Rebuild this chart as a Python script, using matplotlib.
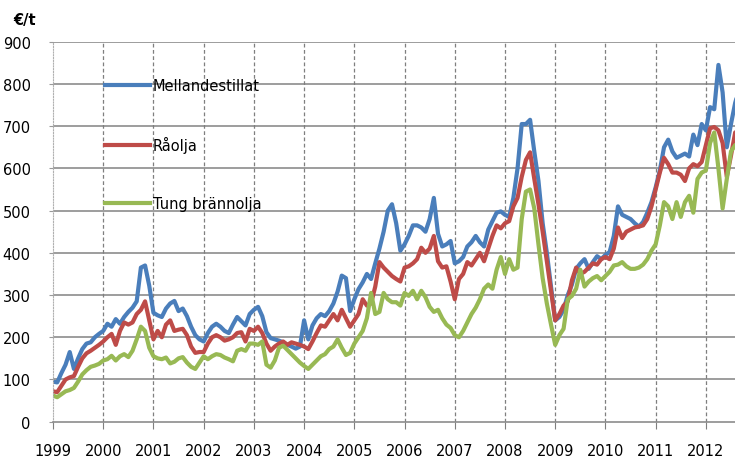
import numpy as np
import matplotlib
matplotlib.use("Agg")
import matplotlib.pyplot as plt

# monthly values, Jan 1999 -> Sep 2012 (EUR per tonne)
mellandestillat = [
    95, 93, 115, 135, 165, 125, 150, 172, 185, 188, 200, 208,   # 1999
    215, 232, 225, 243, 232, 248, 260, 270, 285, 365, 370, 322,  # 2000
    258, 252, 248, 268, 280, 286, 262, 268, 250, 225, 205, 195,  # 2001
    190, 210, 225, 232, 225, 215, 210, 230, 248, 238, 228, 255,  # 2002
    265, 272, 250, 212, 198, 195, 192, 188, 182, 178, 173, 178,  # 2003
    240, 195, 228, 245, 255, 250, 262, 280, 308, 346, 340, 262,  # 2004
    290, 314, 330, 350, 338, 375, 410, 450, 500, 515, 470, 405,  # 2005
    420, 440, 465, 465, 460, 450, 480, 530, 445, 415, 420, 428,  # 2006
    375, 380, 390, 415, 425, 440, 425, 415, 455, 475, 495, 498,  # 2007
    490, 485, 530, 600, 705, 705, 715, 640, 570, 470, 400, 320,  # 2008
    240, 248, 265, 300, 325, 362, 375, 385, 362, 378, 392, 385,  # 2009
    395, 402, 440, 510, 490, 485, 480, 470, 462, 473, 495, 520,  # 2010
    555, 595, 650, 668, 640, 625, 630, 635, 628, 680, 655, 705,  # 2011
    690, 745, 740, 845, 780, 650, 705, 755, 790,                 # 2012
]
raolja = [
    72, 70, 85, 100, 105, 108, 130, 150, 162, 168, 175, 182,
    190, 200, 208, 182, 215, 235, 230, 235, 255, 265, 285, 240,
    195, 215, 200, 230, 240, 215, 218, 220, 205, 178, 163, 165,
    165, 185, 200, 205, 200, 192, 195, 200, 210, 212, 190, 220,
    215, 225, 210, 185, 168, 178, 185, 190, 182, 188, 185, 182,
    178, 172, 190, 210, 228, 225, 240, 255, 240, 265, 245, 225,
    240, 255, 290, 275, 280, 320, 378, 365, 355, 345, 338, 332,
    365, 368, 375, 385, 412, 400, 410, 440, 380, 365, 368, 332,
    290, 338, 350, 378, 370, 385, 400, 380, 410, 440, 465, 458,
    470, 475, 510, 530, 580, 620, 638, 575, 515, 450, 380, 310,
    240, 255, 275, 285, 335, 365, 350, 355, 365, 375, 372, 385,
    390, 385, 410, 460, 435, 450, 455, 460, 462, 465, 480, 510,
    550, 590, 625, 610, 590, 590, 585, 570, 600, 610, 605, 615,
    655, 695, 698, 690, 660, 580, 630, 685, 690,
]
tung_brannolja = [
    62, 58, 65, 72, 75, 80, 95, 112, 122, 130, 133, 137,
    145, 148, 156, 145, 155, 160, 153, 168, 195, 225, 215, 175,
    155, 150, 148, 152, 138, 142, 150, 153, 140, 130, 125, 140,
    155, 148, 155, 160, 158, 152, 148, 143, 168, 172, 168, 185,
    185, 182, 190, 135, 128, 145, 175, 180, 170, 160, 150, 140,
    132, 125, 135, 145, 155, 160, 172, 178, 195, 175, 158, 163,
    185, 200, 215, 245, 305, 255, 260, 305, 290, 283, 283, 275,
    305, 298, 310, 290, 310, 295, 272, 260, 265, 245, 230, 222,
    205, 200, 215, 235, 255, 270, 290, 315, 325, 315, 360, 390,
    350, 385, 360, 365, 480, 545, 550, 505, 420, 340, 280, 230,
    182, 205, 220, 290, 298, 315, 360, 320, 332, 340, 345, 335,
    345, 355, 370, 372, 378, 368, 362, 362, 365, 372, 385, 405,
    420, 465, 520, 510, 480, 520, 485, 520, 535, 495, 575, 590,
    595, 660, 685, 600, 505, 575, 640, 655, 660,
]
years = list(range(1999, 2013))
series_names = ["Mellandestillat", "Råolja", "Tung brännolja"]

t = 1999 + np.arange(len(mellandestillat)) / 12.0

fig = plt.figure(figsize=(7.35, 4.6), dpi=100)
ax = fig.add_axes([53 / 735, 37.3 / 460, 682 / 735, 380 / 460])

ax.plot(t, mellandestillat, color="#4a7ebb", lw=3, label=series_names[0])
ax.plot(t, raolja, color="#be4b48", lw=3, label=series_names[1])
ax.plot(t, tung_brannolja, color="#98b954", lw=3, label=series_names[2])

ax.set_xlim(1999, 2012.58)
ax.set_ylim(0, 900)
ax.set_yticks(range(0, 901, 100))
ax.set_xticks(years)
ax.set_xticklabels([str(y) for y in years])

# grid: solid horizontal, dashed vertical
for v in range(100, 901, 100):
    ax.axhline(v, color="#8c8c8c", lw=1.2, zorder=0)
for y in years[1:]:
    ax.axvline(y, color="#7f7f7f", lw=0.9, ls=(0, (3, 2)), zorder=0)

for s in ["top", "right"]:
    ax.spines[s].set_visible(False)
ax.spines["left"].set_color("#b0b0b0")
ax.spines["left"].set_linestyle((0, (1, 1.5)))
ax.spines["bottom"].set_color("#8c8c8c")
ax.spines["bottom"].set_linewidth(1.2)

ax.tick_params(axis="y", length=3, color="#9a9a9a", pad=13, labelsize=10.5)
ax.tick_params(axis="x", length=5, color="#7f7f7f", pad=10, labelsize=10.5)

fig.text(13 / 735, 1 - 21 / 460, "€/t", fontsize=10.5, fontweight="bold",
         va="center", ha="left")

ax.legend(loc="upper left", bbox_to_anchor=(0.076, 0.905), frameon=False,
          borderpad=0, borderaxespad=0, handlelength=3.1, handletextpad=0.2,
          labelspacing=2.95, fontsize=10.5)

fig.savefig("out.png", dpi=100)
